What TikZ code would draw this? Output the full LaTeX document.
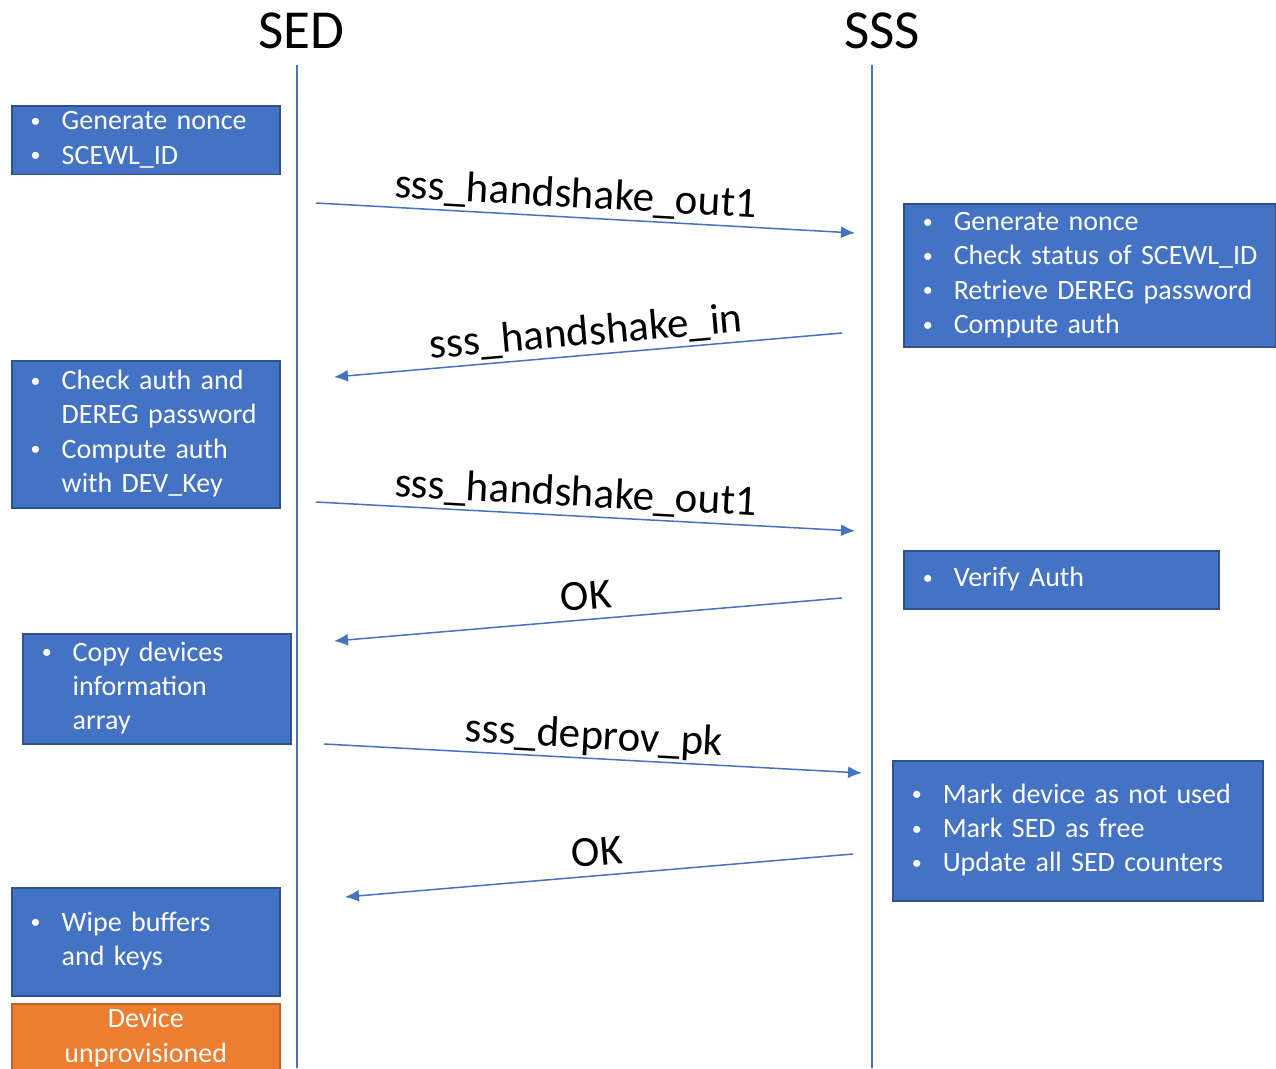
\documentclass[tikz,border=0pt]{standalone}
\usepackage{fontspec}
\setmainfont{Carlito}
\usetikzlibrary{arrows.meta}
\definecolor{boxblue}{HTML}{4472C4}
\definecolor{boxedge}{HTML}{2F528F}
\definecolor{orangebox}{HTML}{ED7D31}
\definecolor{orangeedge}{HTML}{C0652A}
\definecolor{lineblue}{HTML}{4472C4}

% bullet list laid out as a two-column table
\newenvironment{blist}{\begin{tabular}{@{\hspace{19pt}}p{31pt}@{}l@{}}}{\end{tabular}}
\newcommand{\bl}{\raisebox{2.5pt}{\fontsize{20}{20}\selectfont\textbullet}}

\begin{document}
\begin{tikzpicture}[x=1pt,y=-1pt,
  box/.style 2 args={draw=boxedge, fill=boxblue, line width=1.5pt, text=white,
    inner sep=0pt, anchor=north west, align=left,
    minimum width=#1, text width=#1, minimum height=#2,
    font=\fontsize{28}{34.3}\selectfont},
  endbox/.style 2 args={draw=orangeedge, fill=orangebox, line width=1.5pt, text=white,
    inner sep=0pt, anchor=north west, align=center,
    minimum width=#1, text width=#1, minimum height=#2,
    font=\fontsize{28}{34.3}\selectfont},
  title/.style={font=\fontsize{55}{60}\selectfont, inner sep=0pt},
  life/.style={draw=lineblue, line width=1.5pt},
  msg/.style={draw=lineblue, line width=1.5pt, -{Latex[length=14pt,width=12pt]}},
  lbl/.style={font=\fontsize{43}{50}\selectfont, sloped, above=9pt, inner sep=0pt, text depth=0pt}
]
\useasboundingbox (0,0) rectangle (1276,1068);
\clip (0,0) rectangle (1276,1068);

% participants
\node[title] (sed) at (301,31) {SED};
\node[title] (sss) at (882,31) {SSS};

% lifelines
\coordinate (sedtop) at (297,65);
\coordinate (sedbot) at (297,1068);
\coordinate (ssstop) at (872,65);
\coordinate (sssbot) at (872,1068);
\draw[life] (sedtop) -- (sedbot);
\draw[life] (ssstop) -- (sssbot);

% SED side steps
\node[box={268pt}{65pt}] (gen) at (11,105) {\begin{blist}
\bl & Generate nonce\\
\bl & SCEWL\_ID
\end{blist}};

\node[box={268pt}{147pt}] (check) at (11,360) {\begin{blist}
\bl & Check auth and\\
    & DEREG password\\
\bl & Compute auth\\
    & with DEV\_Key
\end{blist}};

\node[box={268pt}{110pt}] (copy) at (22,633) {\begin{blist}
\bl & Copy devices\\
    & information\\
    & array
\end{blist}};

\node[box={268pt}{108pt}] (wipe) at (11,887) {\begin{blist}
\bl & Wipe buffers\\
    & and keys
\end{blist}};

\node[endbox={268pt}{68pt}] (done) at (11,1003) {Device\\unprovisioned};

% SSS side steps
\node[box={372pt}{143pt}] (sssgen) at (903,203) {\begin{blist}
\bl & Generate nonce\\
\bl & Check status of SCEWL\_ID\\
\bl & Retrieve DEREG password\\
\bl & Compute auth
\end{blist}};

\node[box={315pt}{58pt}] (verify) at (903,550) {\begin{blist}
\bl & Verify Auth
\end{blist}};

\node[box={370pt}{140pt}] (mark) at (892,760) {\begin{blist}
\bl & Mark device as not used\\
\bl & Mark SED as free\\
\bl & Update all SED counters
\end{blist}};

% message end points
\coordinate (m1a) at (316,203);  \coordinate (m1b) at (855,233);
\coordinate (m2a) at (842,333);  \coordinate (m2b) at (334,377);
\coordinate (m3a) at (316,502);  \coordinate (m3b) at (855,531);
\coordinate (m4a) at (842,598);  \coordinate (m4b) at (334,641);
\coordinate (m5a) at (324,744);  \coordinate (m5b) at (862,773);
\coordinate (m6a) at (853,854);  \coordinate (m6b) at (345,897);

% messages
\draw[msg] (m1a) -- node[lbl, pos=0.48] (l1) {sss\_handshake\_out1} (m1b);
\draw[msg] (m2a) -- node[lbl, pos=0.5] (l2) {sss\_handshake\_in} (m2b);
\draw[msg] (m3a) -- node[lbl, pos=0.48] (l3) {sss\_handshake\_out1} (m3b);
\draw[msg] (m4a) -- node[lbl, pos=0.5] (l4) {OK} (m4b);
\draw[msg] (m5a) -- node[lbl, pos=0.5] (l5) {sss\_deprov\_pk} (m5b);
\draw[msg] (m6a) -- node[lbl, pos=0.5] (l6) {OK} (m6b);
\end{tikzpicture}
\end{document}
